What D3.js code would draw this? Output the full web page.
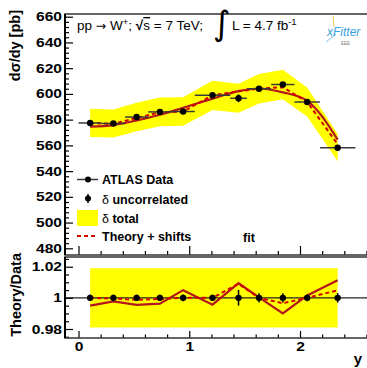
<!DOCTYPE html>
<html>
<head>
<meta charset="utf-8">
<script src="https://cdn.jsdelivr.net/npm/d3@7"></script>
<style>
  body { margin: 0; background: #fff; }
  svg { display: block; font-family: "Liberation Sans", Arial, sans-serif; }
</style>
</head>
<body>
<div id="chart"></div>
<script>
// bins in rapidity
const binCentres = [0.105, 0.315, 0.525, 0.735, 0.945, 1.21, 1.445, 1.63, 1.845, 2.065, 2.34];
const binLow = [0, 0.21, 0.42, 0.63, 0.84, 1.05, 1.37, 1.52, 1.74, 1.95, 2.18];
const binHigh = [0.21, 0.42, 0.63, 0.84, 1.05, 1.37, 1.52, 1.74, 1.95, 2.18, 2.5];

// measured cross section [pb]
const dataValues = [577.4, 577.0, 582.0, 586.0, 586.3, 598.9, 596.6, 604.0, 607.3, 593.7, 558.2];
const uncorrErr = [1.2, 1.2, 1.2, 1.2, 1.3, 1.2, 3.0, 1.8, 1.8, 1.3, 1.7];
const totalErrPct = [1.9, 1.9, 1.9, 1.9, 1.9, 1.9, 1.9, 1.9, 1.9, 1.9, 1.9];

// theory predictions [pb]
const theoryFit = [574.5, 575.7, 579.4, 583.8, 589.2, 596.3, 602.2, 604.2, 601.2, 594.6, 564.5];
const theoryShifted = [577.4, 576.7, 581.3, 585.6, 586.3, 598.9, 602.0, 604.0, 605.2, 593.7, 560.9];

// tick labels
const yTicksTop = [480, 500, 520, 540, 560, 580, 600, 620, 640, 660];
const yTicksBottom = [0.98, 1, 1.02];
const xTicks = [0, 1, 2];

const W = 367, H = 368;
const frameLeft = 65, frameRight = 369;
const topPanel = { top: 14, bottom: 255 };
const botPanel = { top: 257, bottom: 338 };

const solidRed = '#b3161b';
const dashRed = '#d40000';
const bandYellow = '#ffff00';

const svg = d3.select('#chart').append('svg')
  .attr('width', W)
  .attr('height', H);

const x = d3.scaleLinear().domain([0, 2]).range([78.5, 300]);
const yTop = d3.scaleLinear().domain([480, 660]).range([248.3, 16.7]);
const yBot = d3.scaleLinear().domain([0.98, 1.02]).range([329, 266.7]);

const points = binCentres.map((c, i) => ({
  x: c, lo: binLow[i], hi: binHigh[i],
  v: dataValues[i], err: uncorrErr[i], tot: totalErrPct[i] / 100,
  th: theoryFit[i], sh: theoryShifted[i]
}));

// ---------- top panel ----------
const gTop = svg.append('g');

gTop.append('path')
  .datum(points)
  .attr('fill', bandYellow)
  .attr('d', d3.area()
    .x(d => x(d.x))
    .y0(d => yTop(d.v * (1 - d.tot)))
    .y1(d => yTop(d.v * (1 + d.tot))));

gTop.append('path')
  .datum(points)
  .attr('fill', 'none')
  .attr('stroke', solidRed)
  .attr('stroke-width', 2.2)
  .attr('d', d3.line().curve(d3.curveMonotoneX).x(d => x(d.x)).y(d => yTop(d.th)));

gTop.append('path')
  .datum(points)
  .attr('fill', 'none')
  .attr('stroke', dashRed)
  .attr('stroke-width', 2)
  .attr('stroke-dasharray', '4,3')
  .attr('d', d3.line().x(d => x(d.x)).y(d => yTop(d.sh)));

// data: bin width bars, uncorrelated errors, markers
gTop.append('g').selectAll('line')
  .data(points).join('line')
  .attr('x1', d => x(d.lo)).attr('x2', d => x(d.hi))
  .attr('y1', d => yTop(d.v)).attr('y2', d => yTop(d.v))
  .attr('stroke', '#3a3a3a').attr('stroke-width', 1.5);

gTop.append('g').selectAll('line')
  .data(points).join('line')
  .attr('x1', d => x(d.x)).attr('x2', d => x(d.x))
  .attr('y1', d => yTop(d.v - d.err)).attr('y2', d => yTop(d.v + d.err))
  .attr('stroke', '#000').attr('stroke-width', 1.5);

gTop.append('g').selectAll('circle')
  .data(points).join('circle')
  .attr('cx', d => x(d.x)).attr('cy', d => yTop(d.v))
  .attr('r', 3.2).attr('fill', '#000');

// ---------- bottom panel ----------
const gBot = svg.append('g');

gBot.append('path')
  .datum(points)
  .attr('fill', bandYellow)
  .attr('d', d3.area()
    .x(d => x(d.x))
    .y0(d => yBot(1 - d.tot))
    .y1(d => yBot(1 + d.tot)));

gBot.append('line')
  .attr('x1', frameLeft).attr('x2', W)
  .attr('y1', yBot(1)).attr('y2', yBot(1))
  .attr('stroke', '#222').attr('stroke-width', 1.3);

gBot.append('path')
  .datum(points)
  .attr('fill', 'none')
  .attr('stroke', solidRed)
  .attr('stroke-width', 2.2)
  .attr('d', d3.line().x(d => x(d.x)).y(d => yBot(d.th / d.v)));

gBot.append('path')
  .datum(points)
  .attr('fill', 'none')
  .attr('stroke', dashRed)
  .attr('stroke-width', 2)
  .attr('stroke-dasharray', '4,3')
  .attr('d', d3.line().x(d => x(d.x)).y(d => yBot(d.sh / d.v)));

gBot.append('g').selectAll('line')
  .data(points).join('line')
  .attr('x1', d => x(d.x)).attr('x2', d => x(d.x))
  .attr('y1', d => yBot(1 - d.err / d.v)).attr('y2', d => yBot(1 + d.err / d.v))
  .attr('stroke', '#000').attr('stroke-width', 1.5);

gBot.append('g').selectAll('circle')
  .data(points).join('circle')
  .attr('cx', d => x(d.x)).attr('cy', yBot(1))
  .attr('r', 3.2).attr('fill', '#000');

// ---------- frames and axes ----------
// ROOT labels come out wider than they are tall, so stretch them a bit
const labelScale = 1.25;

function styleAxis(g) {
  g.select('.domain').remove();
  g.selectAll('line').attr('stroke', '#000').attr('stroke-width', 1.2);
  g.selectAll('text')
    .attr('font-size', 12.5)
    .attr('font-weight', 'bold')
    .attr('fill', '#000');
}

function leftAxis(scale, majors, minors, fmt) {
  const gMaj = svg.append('g').attr('transform', `translate(${frameLeft},0)`)
    .call(d3.axisLeft(scale).tickValues(majors).tickSize(-8).tickPadding(3).tickFormat(fmt));
  styleAxis(gMaj);
  gMaj.selectAll('text')
    .attr('x', -3 / labelScale)
    .attr('transform', `scale(${labelScale},1)`);
  const gMin = svg.append('g').attr('transform', `translate(${frameLeft},0)`)
    .call(d3.axisLeft(scale).tickValues(minors).tickSize(-4).tickFormat(''));
  styleAxis(gMin);
}

const minorTop = d3.range(480, 661, 4).filter(v => v % 20 !== 0);
leftAxis(yTop, yTicksTop, minorTop, d3.format('d'));

const minorBot = [0.975, 0.985, 0.99, 0.995, 1.005, 1.01, 1.015, 1.025];
leftAxis(yBot, yTicksBottom, minorBot, d => (d === 1 ? '1' : d3.format('.2f')(d)));

const minorX = [0.2, 0.4, 0.6, 0.8, 1.2, 1.4, 1.6, 1.8, 2.2, 2.4, 2.6];

function bottomAxis(yPos, majLen, minLen, withLabels) {
  const gMaj = svg.append('g').attr('transform', `translate(0,${yPos})`)
    .call(d3.axisBottom(x).tickValues(xTicks).tickSize(-majLen).tickPadding(4)
      .tickFormat(withLabels ? d3.format('d') : ''));
  styleAxis(gMaj);
  gMaj.selectAll('text').attr('transform', `scale(${labelScale},1)`);
  const gMin = svg.append('g').attr('transform', `translate(0,${yPos})`)
    .call(d3.axisBottom(x).tickValues(minorX).tickSize(-minLen).tickFormat(''));
  styleAxis(gMin);
}

bottomAxis(topPanel.bottom, 9, 4, false);
bottomAxis(botPanel.bottom, 7, 3.5, true);

// frames
[topPanel, botPanel].forEach(p => {
  svg.append('rect')
    .attr('x', frameLeft).attr('y', p.top)
    .attr('width', frameRight - frameLeft).attr('height', p.bottom - p.top)
    .attr('fill', 'none').attr('stroke', '#333').attr('stroke-width', 1.5);
  svg.append('line')
    .attr('x1', frameLeft).attr('x2', frameLeft)
    .attr('y1', p.top).attr('y2', p.bottom)
    .attr('stroke', '#000').attr('stroke-width', 2);
});

// axis titles
svg.append('text')
  .attr('transform', 'translate(20,10) rotate(-90)')
  .attr('text-anchor', 'end')
  .attr('font-size', 14.5).attr('font-weight', 'bold')
  .text('dσ/dy [pb]');

svg.append('text')
  .attr('transform', 'translate(20.5,253) rotate(-90)')
  .attr('text-anchor', 'end')
  .attr('font-size', 14.5).attr('font-weight', 'bold')
  .text('Theory/Data');

svg.append('text')
  .attr('x', 362).attr('y', 364)
  .attr('text-anchor', 'end')
  .attr('font-size', 15).attr('font-weight', 'bold')
  .text('y');

// process label
const title = svg.append('text')
  .attr('x', 77).attr('y', 30)
  .attr('font-size', 13.5);
title.append('tspan').text('pp ');
title.append('tspan').attr('font-family', 'DejaVu Sans').attr('font-size', 12.5).text('→');
title.append('tspan').text(' W');
title.append('tspan').attr('dy', -5).attr('font-size', 9.5).text('+');
title.append('tspan').attr('dy', 5).text('; ');
title.append('tspan').attr('font-weight', 'bold').text('√');
title.append('tspan').attr('text-decoration', 'overline').text('s');
title.append('tspan').text(' = 7 TeV;');

svg.append('text')
  .attr('x', 213).attr('y', 35)
  .attr('font-size', 34)
  .attr('font-family', 'DejaVu Sans')
  .text('∫');

const lumi = svg.append('text')
  .attr('x', 232).attr('y', 30)
  .attr('font-size', 13.5);
lumi.append('tspan').text('L = 4.7 fb');
lumi.append('tspan').attr('dy', -5).attr('font-size', 9.5).text('-1');

// xFitter logo
svg.append('line')
  .attr('x1', 333).attr('y1', 16).attr('x2', 334).attr('y2', 27)
  .attr('stroke', '#f2c94c').attr('stroke-width', 1);
svg.append('line')
  .attr('x1', 326).attr('y1', 42).attr('x2', 336).attr('y2', 34)
  .attr('stroke', '#7cc4ec').attr('stroke-width', 1);
svg.append('text')
  .attr('x', 327).attr('y', 36)
  .attr('font-size', 12).attr('font-style', 'italic')
  .attr('fill', '#3b9fe0')
  .text('xFitter');
svg.append('text')
  .attr('x', 341).attr('y', 45)
  .attr('font-size', 4.5).attr('fill', '#777')
  .text('EEE');

// ---------- legend ----------
const legX0 = 77, legX1 = 98, legText = 102;
const leg = svg.append('g')
  .attr('font-size', 12.5).attr('font-weight', 'bold');

leg.append('line')
  .attr('x1', legX0).attr('x2', legX1).attr('y1', 179.5).attr('y2', 179.5)
  .attr('stroke', '#3a3a3a').attr('stroke-width', 1.5);
leg.append('circle').attr('cx', 88).attr('cy', 179.5).attr('r', 3).attr('fill', '#000');
leg.append('text').attr('x', legText).attr('y', 184).text('ATLAS Data');

leg.append('line')
  .attr('x1', 88).attr('x2', 88).attr('y1', 194).attr('y2', 203)
  .attr('stroke', '#000').attr('stroke-width', 1.5);
leg.append('circle').attr('cx', 88).attr('cy', 198.5).attr('r', 3).attr('fill', '#000');
const unc = leg.append('text').attr('x', legText).attr('y', 203.5);
unc.append('tspan').attr('font-weight', 'normal').text('δ');
unc.append('tspan').text(' uncorrelated');

leg.append('rect')
  .attr('x', legX0).attr('y', 210).attr('width', legX1 - legX0).attr('height', 16)
  .attr('fill', bandYellow);
const tot = leg.append('text').attr('x', legText).attr('y', 223);
tot.append('tspan').attr('font-weight', 'normal').text('δ');
tot.append('tspan').text(' total');

leg.append('line')
  .attr('x1', legX0).attr('x2', legX1).attr('y1', 236).attr('y2', 236)
  .attr('stroke', dashRed).attr('stroke-width', 2).attr('stroke-dasharray', '4,3');
leg.append('text').attr('x', legText).attr('y', 241).text('Theory + shifts');
leg.append('text').attr('x', 243).attr('y', 242).text('fit');
</script>
</body>
</html>
